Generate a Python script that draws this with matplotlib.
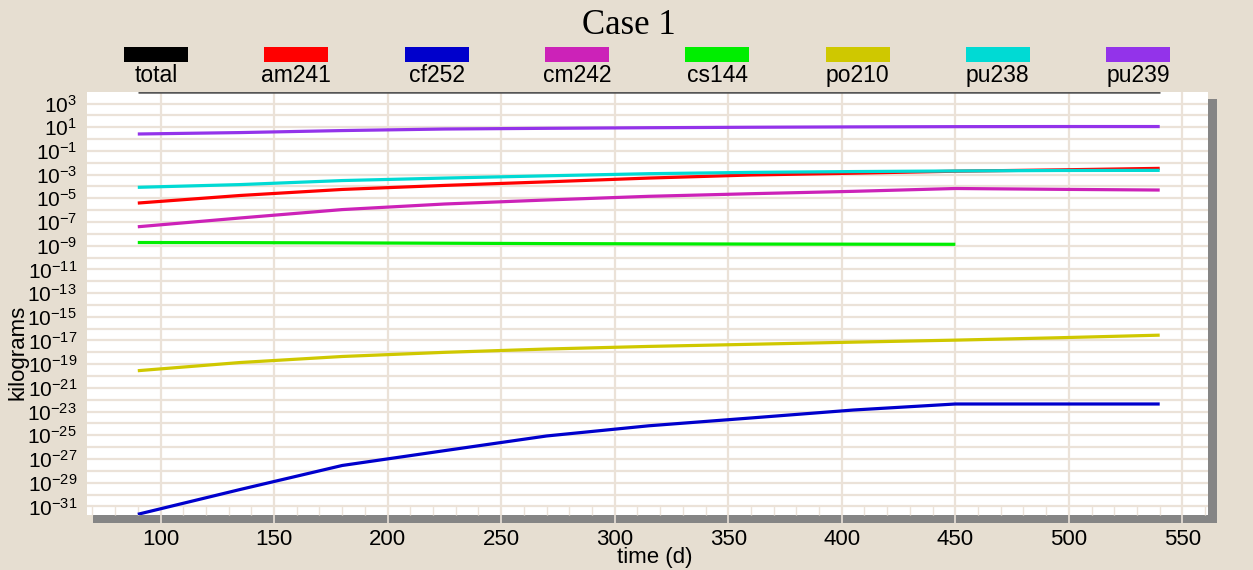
#!/usr/bin/env python3
"""Case 1: mass of each nuclide over time (log scale), old-style chart look."""

import matplotlib
matplotlib.use("Agg")
import matplotlib.pyplot as plt
import numpy as np
from matplotlib.patches import Rectangle
from matplotlib.ticker import FixedLocator, FuncFormatter, MultipleLocator

W, H = 1253, 570   # output size in pixels (dpi 100)

BG = "#E6DED1"
GRID = "#EBE2D8"
SHADOW = "#858585"

# time axis (days)
TIME_D = [90, 135, 180, 225, 270, 315, 360, 405, 450, 495, 540]
TIME_CS144 = [90, 135, 180, 225, 270, 315, 360, 405, 450]

# masses, stored as log10(kg)
TOTAL_LOG = [3.95] * len(TIME_D)   # sits on the upper edge of the plot
AM241_LOG = [-5.40, -4.76, -4.25, -3.91, -3.61, -3.29, -3.03, -2.88, -2.71, -2.60, -2.47]
CF252_LOG = [-31.67, -29.58, -27.55, -26.30, -25.06, -24.20, -23.54, -22.87, -22.36, -22.36, -22.36]
CM242_LOG = [-7.40, -6.66, -5.95, -5.48, -5.14, -4.83, -4.61, -4.41, -4.17, -4.24, -4.30]
CS144_LOG = [-8.73, -8.74, -8.76, -8.79, -8.82, -8.84, -8.86, -8.87, -8.88]
PO210_LOG = [-19.55, -18.86, -18.35, -18.00, -17.72, -17.50, -17.32, -17.14, -16.97, -16.77, -16.55]
PU238_LOG = [-4.07, -3.84, -3.50, -3.29, -3.10, -2.92, -2.81, -2.74, -2.69, -2.65, -2.64]
PU239_LOG = [0.43, 0.55, 0.72, 0.85, 0.91, 0.96, 1.00, 1.03, 1.05, 1.06, 1.06]

SERIES = [
    ("total", TIME_D, TOTAL_LOG, "#000000"),
    ("am241", TIME_D, AM241_LOG, "#FF0000"),
    ("cf252", TIME_D, CF252_LOG, "#0000CC"),
    ("cm242", TIME_D, CM242_LOG, "#CC22B8"),
    ("cs144", TIME_CS144, CS144_LOG, "#00EE00"),
    ("po210", TIME_D, PO210_LOG, "#CFC800"),
    ("pu238", TIME_D, PU238_LOG, "#00DAD4"),
    ("pu239", TIME_D, PU239_LOG, "#9333EA"),
]

X_TICKS = [100, 150, 200, 250, 300, 350, 400, 450, 500, 550]
Y_LABEL_EXP = list(range(3, -32, -2))     # labelled decades
Y_GRID_EXP = list(range(2, -32, -2))      # unlabelled decades (grid only)
XLIM = (67.5, 561.4)
YLIM = (10 ** -31.73, 10 ** max(TOTAL_LOG))

plt.rcParams.update({
    "font.family": ["Liberation Sans", "DejaVu Sans"],
    "mathtext.default": "regular",
    "font.size": 16,
})


def px_box(x0, y0, x1, y1):
    """pixel box (top-left origin) -> figure fraction [left, bottom, w, h]"""
    return [x0 / W, 1 - y1 / H, (x1 - x0) / W, (y1 - y0) / H]


def main():
    fig = plt.figure(figsize=(W / 100, H / 100), dpi=100, facecolor=BG)

    # drop shadow behind the plot area
    l, b, w, h = px_box(93, 99, 1216.5, 522.7)
    fig.add_artist(Rectangle((l, b), w, h, transform=fig.transFigure,
                             facecolor=SHADOW, edgecolor="none", zorder=0))

    ax = fig.add_axes(px_box(86.7, 92.3, 1208.3, 515), zorder=1)
    ax.set_facecolor("white")

    for name, t, logv, color in SERIES:
        # total hugs the top edge, so only a thin darker strip of it shows
        lw = 1.8 if name == "total" else 2.3
        c = "#555555" if name == "total" else color
        ax.plot(t, 10.0 ** np.array(logv), color=c, lw=lw,
                solid_capstyle="butt", zorder=3)

    ax.set_yscale("log")
    ax.set_xlim(*XLIM)
    ax.set_ylim(*YLIM)

    ax.yaxis.set_major_locator(FixedLocator([10.0 ** e for e in Y_LABEL_EXP]))
    ax.yaxis.set_minor_locator(FixedLocator([10.0 ** e for e in Y_GRID_EXP]))
    ax.yaxis.set_major_formatter(FuncFormatter(
        lambda v, _: rf"$10^{{{int(round(np.log10(v)))}}}$"))
    ax.yaxis.set_minor_formatter(FuncFormatter(lambda v, _: ""))
    ax.set_xticks(X_TICKS)
    ax.xaxis.set_minor_locator(MultipleLocator(10))

    ax.grid(True, which="major", axis="x", color=GRID, lw=1.6, zorder=1)
    ax.grid(True, which="both", axis="y", color=GRID, lw=1.6, zorder=1)
    ax.set_axisbelow(True)

    ax.tick_params(axis="y", which="both", length=0, pad=7, labelsize=15)
    ax.tick_params(axis="x", which="major", direction="out", length=5.8,
                   width=1.2, color=GRID, pad=4, labelsize=16)
    ax.tick_params(axis="x", which="minor", direction="in", length=6.5,
                   width=1.0, color=GRID)
    for sp in ax.spines.values():
        sp.set_visible(False)

    # axis titles
    fig.text(655 / W, 1 - 557 / H, "time (d)", ha="center", va="center", fontsize=16)
    fig.text(18 / W, 1 - 352 / H, "kilograms", ha="center", va="center",
             rotation=90, fontsize=16)

    # chart title
    fig.text(629 / W, 1 - 26 / H, "Case 1", ha="center", va="center",
             fontsize=25, family=["Liberation Serif", "DejaVu Serif"])

    # legend: swatch above, name below
    for i, (name, _, _, color) in enumerate(SERIES):
        cx = 156 + i * 140.3
        l, b, w, h = px_box(cx - 32, 47, cx + 32, 61.5)
        fig.add_artist(Rectangle((l, b), w, h, transform=fig.transFigure,
                                 facecolor=color, edgecolor="none"))
        fig.text(cx / W, 1 - 75.5 / H, name, ha="center", va="center", fontsize=16.5)

    fig.savefig("out.png", dpi=100, facecolor=BG)
    plt.close(fig)


if __name__ == "__main__":
    main()
